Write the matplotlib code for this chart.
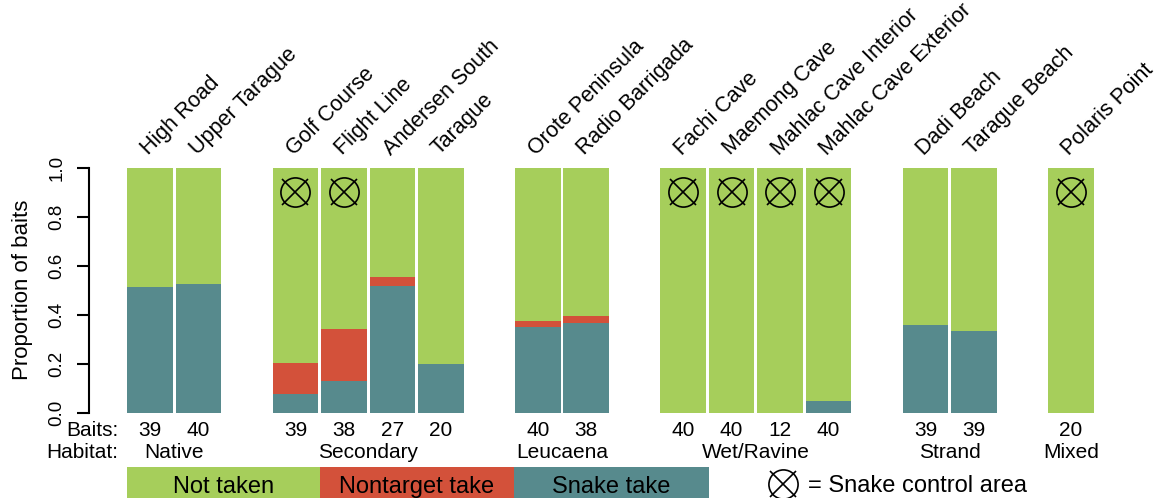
import numpy as np
import matplotlib
matplotlib.use("Agg")
import matplotlib.pyplot as plt
from matplotlib.patches import Rectangle

plt.rcParams['font.family'] = ['Liberation Sans', 'DejaVu Sans']

# ---- data ----
sites = ['High Road', 'Upper Tarague',
         'Golf Course', 'Flight Line', 'Andersen South', 'Tarague',
         'Orote Peninsula', 'Radio Barrigada',
         'Fachi Cave', 'Maemong Cave', 'Mahlac Cave Interior', 'Mahlac Cave Exterior',
         'Dadi Beach', 'Tarague Beach',
         'Polaris Point']
habitats = ['Native', 'Secondary', 'Leucaena', 'Wet/Ravine', 'Strand', 'Mixed']
habitat_counts = [2, 4, 2, 4, 2, 1]
baits = [39, 40, 39, 38, 27, 20, 40, 38, 40, 40, 12, 40, 39, 39, 20]
snake_take = [0.513, 0.525, 0.077, 0.132, 0.519, 0.20, 0.35, 0.368,
              0.0, 0.0, 0.0, 0.05, 0.359, 0.333, 0.0]
nontarget_take = [0.0, 0.0, 0.128, 0.21, 0.037, 0.0, 0.025, 0.027,
                  0.0, 0.0, 0.0, 0.0, 0.0, 0.0, 0.0]
control_area = [False, False, True, True, False, False, False, False,
                True, True, True, True, False, False, True]

green = '#A6CE5B'
red = '#D3513A'
teal = '#578A8D'

snake_take = np.array(snake_take)
nontarget_take = np.array(nontarget_take)
not_taken = 1 - snake_take - nontarget_take

# bar positions: one empty slot between habitat groups
pos = []
start = 0
group_centers = []
for n in habitat_counts:
    xs = list(range(start, start + n))
    pos += xs
    group_centers.append(np.mean(xs))
    start += n + 1
pos = np.array(pos)


def control_symbol(ax, x, y):
    # circle with a cross, like R's pch=13
    ax.plot(x, y, 'o', mfc='none', mec='black', ms=21, mew=1.2, clip_on=False)
    ax.plot(x, y, 'x', mec='black', ms=18.5, mew=1.2, clip_on=False)


fig = plt.figure(figsize=(11.66, 4.98), dpi=100)
ax = fig.add_axes([89/1166, 85/498, 1011/1166, 245/498])

w = 0.94
ax.bar(pos, snake_take, width=w, color=teal, linewidth=0)
ax.bar(pos, nontarget_take, width=w, bottom=snake_take, color=red, linewidth=0)
ax.bar(pos, not_taken, width=w, bottom=snake_take + nontarget_take, color=green, linewidth=0)

cx = pos[np.array(control_area)]
control_symbol(ax, cx, [0.903] * len(cx))

ax.set_xlim(-1.258, 19.6)
ax.set_ylim(0, 1)
for s in ['top', 'right', 'bottom']:
    ax.spines[s].set_visible(False)
ax.spines['left'].set_linewidth(1.5)
ax.set_xticks([])
ax.set_yticks([0, 0.2, 0.4, 0.6, 0.8, 1.0])
ax.set_yticklabels(['0.0', '0.2', '0.4', '0.6', '0.8', '1.0'], rotation=90, va='center')
ax.tick_params(axis='y', length=9, width=1.5, pad=8, labelsize=13.5)

fig.text(23/1166, 1 - 290/498, 'Proportion of baits', rotation=90,
         ha='center', va='center', fontsize=16)

# site names
for x, name in zip(pos, sites):
    ax.text(x - 0.03, 1.05, name, rotation=45, rotation_mode='anchor',
            ha='left', va='baseline', fontsize=15.5, clip_on=False)

# baits and habitat rows
ax.text(-0.65, -0.094, 'Baits:', ha='right', va='baseline', fontsize=15)
ax.text(-0.65, -0.184, 'Habitat:', ha='right', va='baseline', fontsize=15)
for x, b in zip(pos, baits):
    ax.text(x, -0.094, str(b), ha='center', va='baseline', fontsize=15)
for x, h in zip(group_centers, habitats):
    ax.text(x, -0.184, h, ha='center', va='baseline', fontsize=15)

# legend boxes
leg = [('Not taken', green, -0.47, 3.5),
       ('Nontarget take', red, 3.5, 7.5),
       ('Snake take', teal, 7.5, 11.53)]
for label, col, x0, x1 in leg:
    ax.add_patch(Rectangle((x0, -0.35), x1 - x0, 0.131, facecolor=col,
                           edgecolor='none', clip_on=False))
    ax.text((x0 + x1) / 2, -0.325, label, ha='center', va='baseline', fontsize=17)

control_symbol(ax, [13.07], [-0.289])
ax.text(13.57, -0.321, '= Snake control area', ha='left', va='baseline', fontsize=17)

fig.savefig('out.png', dpi=100)
